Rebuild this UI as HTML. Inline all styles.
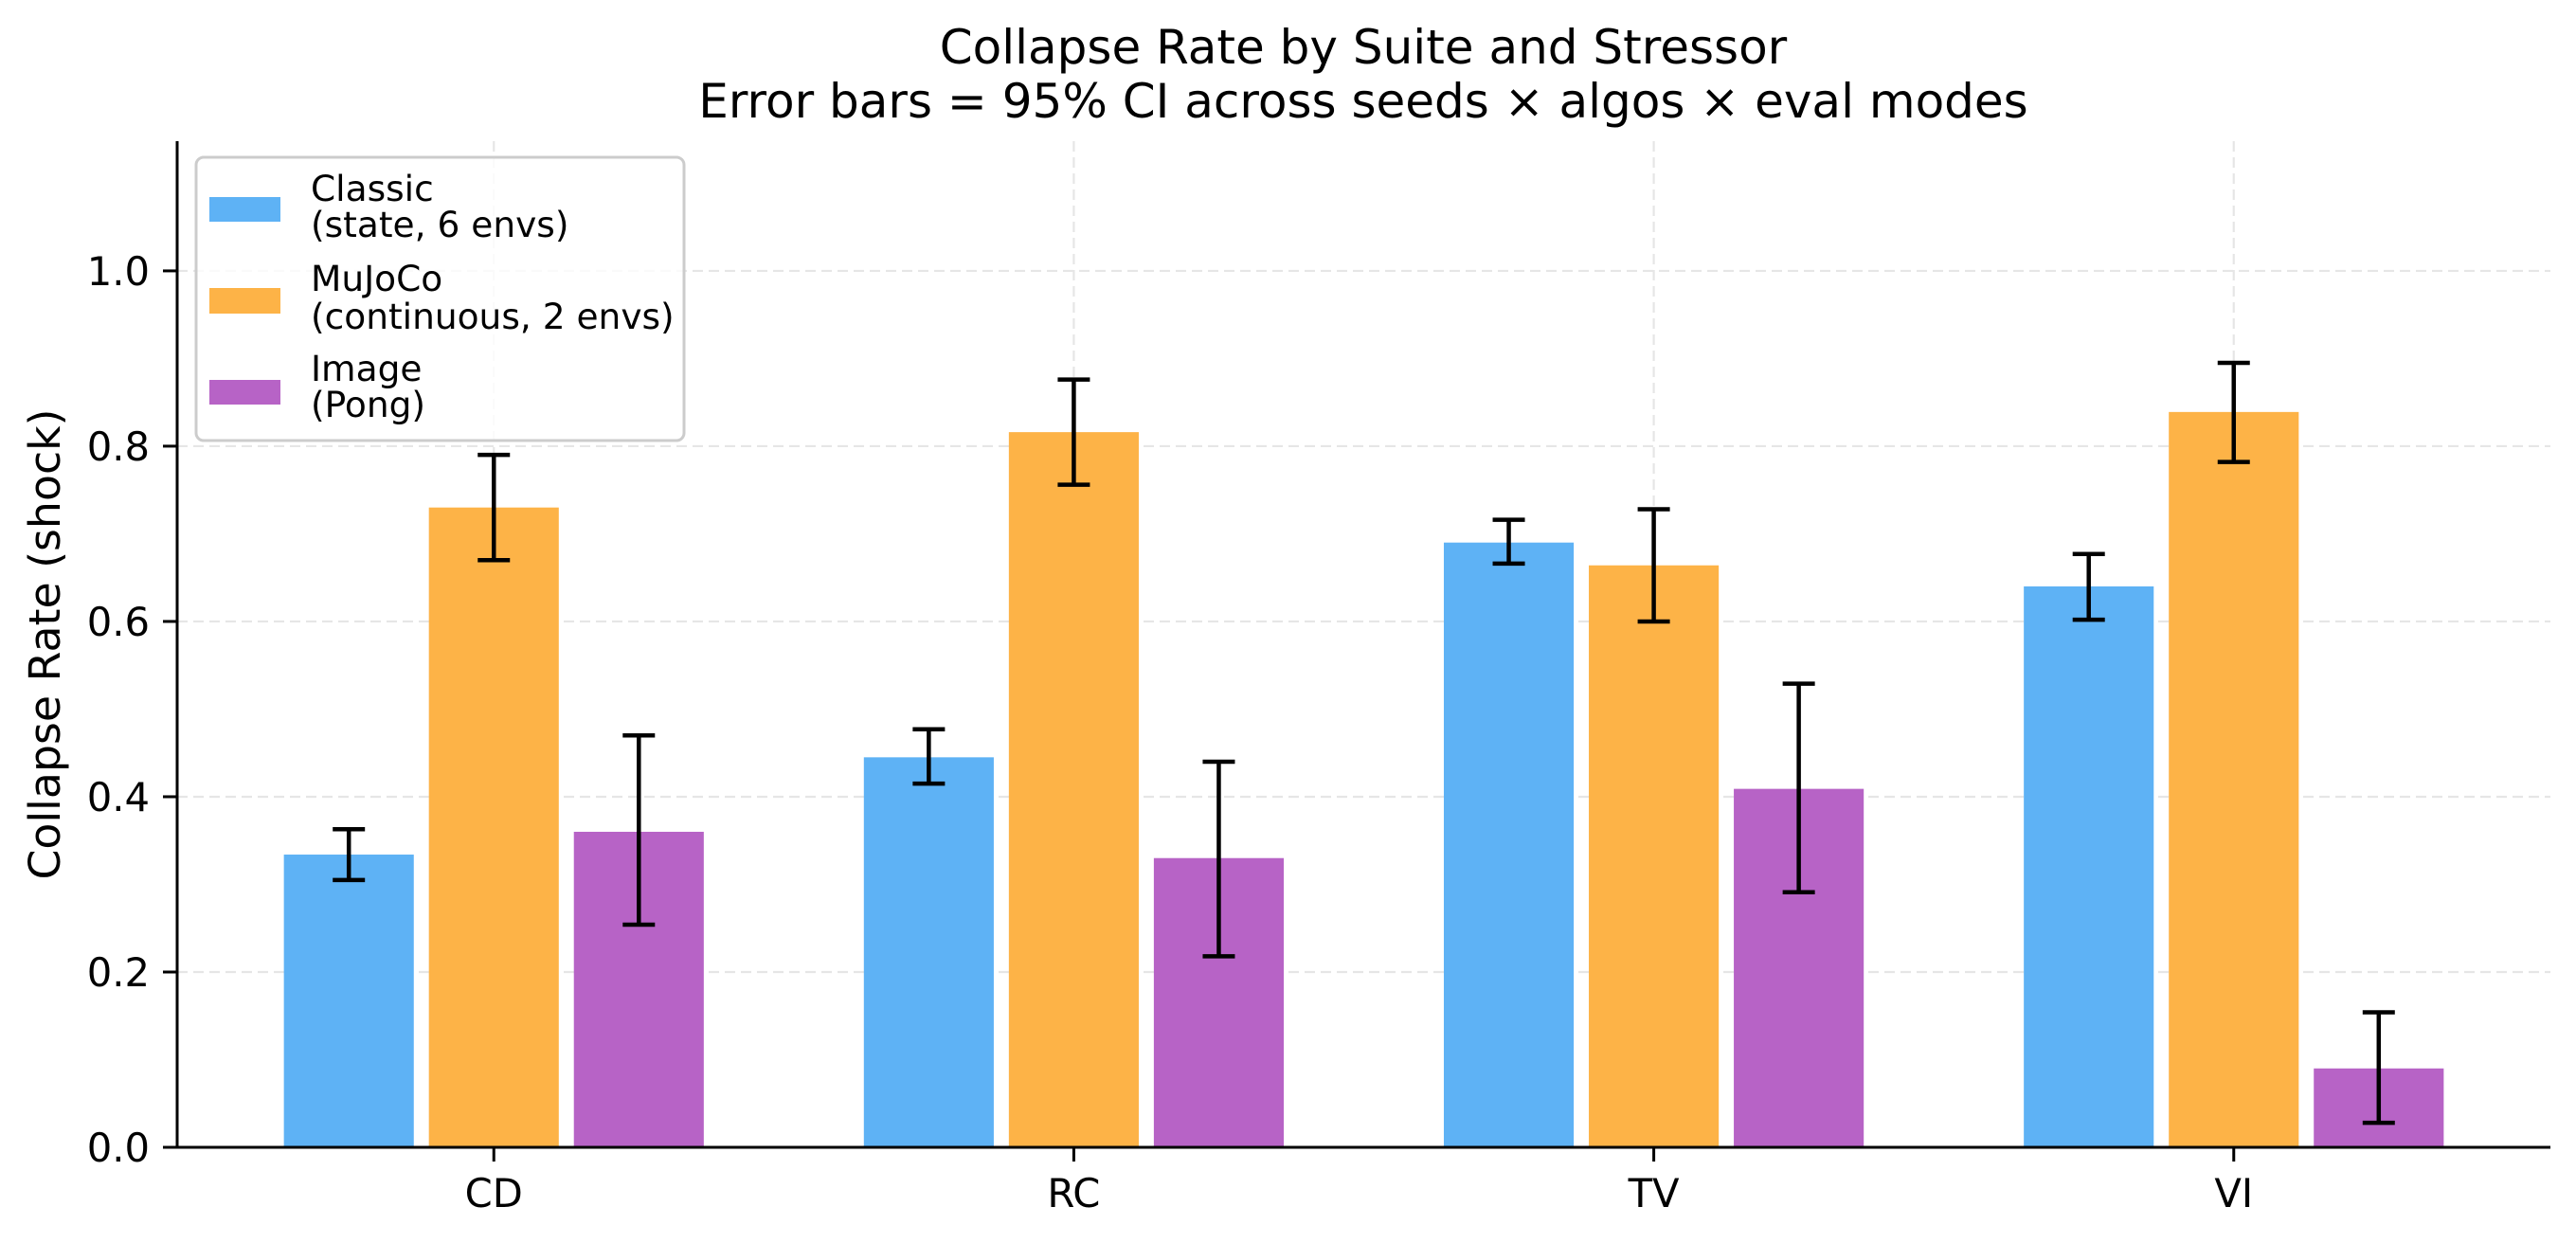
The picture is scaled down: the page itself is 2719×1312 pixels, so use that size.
<!DOCTYPE html>
<html><head><meta charset="utf-8"><style>
html,body{margin:0;padding:0;background:#fff;}
svg{display:block;font-family:"DejaVu Sans","Liberation Sans",sans-serif;}
</style></head><body>
<svg id="chart" width="2719" height="1312" viewBox="0 0 2719 1312" xmlns="http://www.w3.org/2000/svg">
<rect width="2719" height="1312" fill="#fff"/>
<g id="grid"></g><g id="bars"></g><g id="errs"></g><g id="axes"></g>
<text x="1439" y="67" font-size="50" text-anchor="middle">Collapse Rate by Suite and Stressor</text>
<text x="1439" y="124" font-size="50" text-anchor="middle">Error bars = 95% CI across seeds × algos × eval modes</text>
<text x="0" y="0" font-size="45.8" text-anchor="middle" transform="translate(63,680) rotate(-90)">Collapse Rate (shock)</text>
<g>
<rect x="207" y="166" width="515" height="299" rx="8" fill="#fff" fill-opacity="0.8" stroke="#cccccc" stroke-width="3"/>
<rect x="221" y="208" width="75" height="26" fill="#5EB2F5"/>
<text x="328" y="212" font-size="37.5">Classic</text>
<text x="328" y="250" font-size="37.5">(state, 6 envs)</text>
<rect x="221" y="304" width="75" height="27" fill="#FDB347"/>
<text x="328" y="307" font-size="37.5">MuJoCo</text>
<text x="328" y="347" font-size="37.5">(continuous, 2 envs)</text>
<rect x="221" y="401" width="75" height="26" fill="#B763C6"/>
<text x="328" y="402" font-size="37.5">Image</text>
<text x="328" y="440" font-size="37.5">(Pong)</text>
</g>
</svg>
<script>
const categories = ["CD", "RC", "TV", "VI"];
const seriesNames = ["Classic", "MuJoCo", "Image"];
const classicVals = [0.334, 0.445, 0.690, 0.640];
const classicLo = [0.305, 0.415, 0.666, 0.602];
const classicHi = [0.363, 0.477, 0.716, 0.677];
const mujocoVals = [0.730, 0.816, 0.664, 0.839];
const mujocoLo = [0.670, 0.756, 0.600, 0.782];
const mujocoHi = [0.790, 0.876, 0.728, 0.895];
const imageVals = [0.360, 0.330, 0.409, 0.090];
const imageLo = [0.254, 0.218, 0.291, 0.028];
const imageHi = [0.470, 0.440, 0.529, 0.154];
const yTicks = [0.0, 0.2, 0.4, 0.6, 0.8, 1.0];
const yTickLabels = ["0.0", "0.2", "0.4", "0.6", "0.8", "1.0"];

const NS = "http://www.w3.org/2000/svg";
const L = 187, R = 2692, T = 149, B = 1211;
const xMin = -0.546, xMax = 3.546, yMin = 0, yMax = 1.148;
const xs = v => L + (v - xMin) / (xMax - xMin) * (R - L);
const ys = v => B - (v - yMin) / (yMax - yMin) * (B - T);
function mk(tag, attrs, parent) {
  const e = document.createElementNS(NS, tag);
  for (const k in attrs) e.setAttribute(k, attrs[k]);
  parent.appendChild(e);
  return e;
}
const grid = document.getElementById("grid"), bars = document.getElementById("bars"),
      errs = document.getElementById("errs"), axes = document.getElementById("axes");

yTicks.forEach((t, i) => {
  if (t > 0) {
    const g = mk("line", {x1: L, x2: R, y1: ys(t), y2: ys(t), stroke: "#e6e6e6", "stroke-width": 2.2, "stroke-dasharray": "11 6"}, grid);
    
    
  }
  const tk = mk("line", {x1: L - 15, x2: L, y1: ys(t), y2: ys(t), stroke: "#000", "stroke-width": 3}, axes);
  
  
  const lb = mk("text", {x: L - 29, y: ys(t) + 15, "font-size": 41.7, "text-anchor": "end"}, axes);
  lb.textContent = yTickLabels[i];
  
  
});
categories.forEach((c, i) => {
  const g = mk("line", {x1: xs(i), x2: xs(i), y1: T, y2: B, stroke: "#e6e6e6", "stroke-width": 2.2, "stroke-dasharray": "11 6"}, grid);
  
  
  const tk = mk("line", {x1: xs(i), x2: xs(i), y1: B, y2: B + 15, stroke: "#000", "stroke-width": 3}, axes);
  
  
  const lb = mk("text", {x: xs(i), y: B + 63, "font-size": 41.7, "text-anchor": "middle"}, axes);
  lb.textContent = c;
  
  
});

const series = [
  {vals: classicVals, lo: classicLo, hi: classicHi, color: "#5EB2F5", off: -0.25, key: "classic"},
  {vals: mujocoVals, lo: mujocoLo, hi: mujocoHi, color: "#FDB347", off: 0, key: "mujoco"},
  {vals: imageVals, lo: imageLo, hi: imageHi, color: "#B763C6", off: 0.25, key: "image"}
];
const bw = 0.224;
series.forEach(s => {
  s.vals.forEach((v, i) => {
    const x0 = xs(i + s.off - bw / 2), x1 = xs(i + s.off + bw / 2);
    const r = mk("rect", {x: x0, y: ys(v), width: x1 - x0, height: ys(0) - ys(v), fill: s.color}, bars);
    
    
    const cx = xs(i + s.off);
    const e = mk("path", {d: `M${cx},${ys(s.lo[i])}V${ys(s.hi[i])}M${cx-17},${ys(s.lo[i])}H${cx+17}M${cx-17},${ys(s.hi[i])}H${cx+17}`, stroke: "#000", "stroke-width": 4.5, fill: "none"}, errs);
    
    
  });
});
const ya = mk("line", {x1: L, x2: L, y1: T, y2: B + 1.5, stroke: "#000", "stroke-width": 3}, axes);


const xa = mk("line", {x1: L - 1.5, x2: R, y1: B, y2: B, stroke: "#000", "stroke-width": 3}, axes);


</script>
</body></html>
